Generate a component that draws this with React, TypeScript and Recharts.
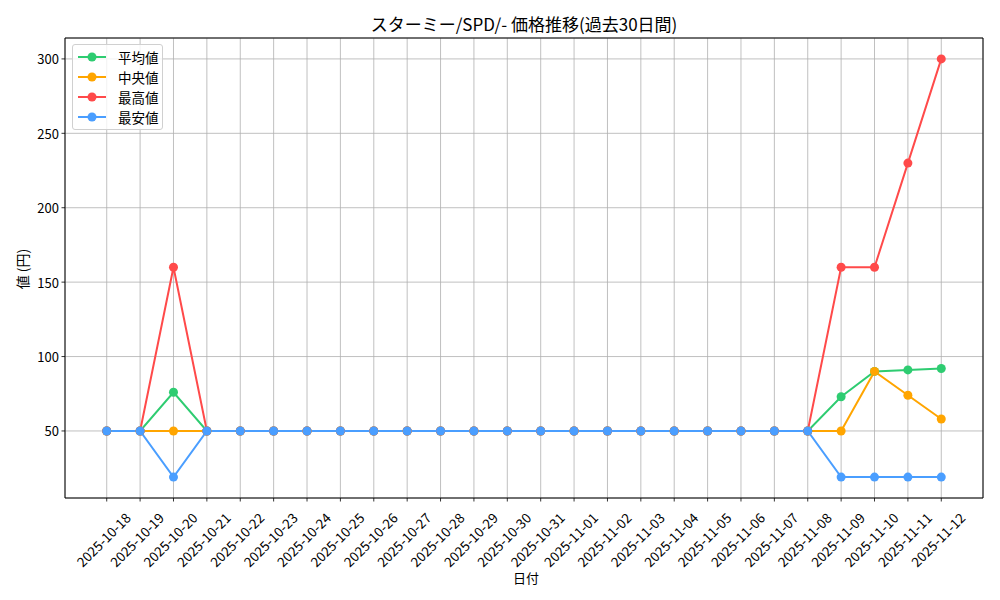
import React from "react";
import {
  LineChart,
  Line,
  XAxis,
  YAxis,
  CartesianGrid,
  ReferenceLine,
} from "recharts";

const dates = [
  "2025-10-18", "2025-10-19", "2025-10-20", "2025-10-21", "2025-10-22",
  "2025-10-23", "2025-10-24", "2025-10-25", "2025-10-26", "2025-10-27",
  "2025-10-28", "2025-10-29", "2025-10-30", "2025-10-31", "2025-11-01",
  "2025-11-02", "2025-11-03", "2025-11-04", "2025-11-05", "2025-11-06",
  "2025-11-07", "2025-11-08", "2025-11-09", "2025-11-10", "2025-11-11",
  "2025-11-12",
];
const avgValues = [50, 50, 76, 50, 50, 50, 50, 50, 50, 50, 50, 50, 50, 50, 50, 50, 50, 50, 50, 50, 50, 50, 73, 90, 91, 92];
const medianValues = [50, 50, 50, 50, 50, 50, 50, 50, 50, 50, 50, 50, 50, 50, 50, 50, 50, 50, 50, 50, 50, 50, 50, 90, 74, 58];
const maxValues = [50, 50, 160, 50, 50, 50, 50, 50, 50, 50, 50, 50, 50, 50, 50, 50, 50, 50, 50, 50, 50, 50, 160, 160, 230, 300];
const minValues = [50, 50, 19, 50, 50, 50, 50, 50, 50, 50, 50, 50, 50, 50, 50, 50, 50, 50, 50, 50, 50, 50, 19, 19, 19, 19];
const yTicks = [50, 100, 150, 200, 250, 300];

const seriesDefs = [
  { key: "avg", name: "平均値", color: "#2ecc71" },
  { key: "median", name: "中央値", color: "#ffa500" },
  { key: "max", name: "最高値", color: "#ff4a4a" },
  { key: "min", name: "最安値", color: "#4a9eff" },
];

const data = dates.map((d, i) => ({
  idx: i,
  date: d,
  avg: avgValues[i],
  median: medianValues[i],
  max: maxValues[i],
  min: minValues[i],
}));

const X_DOMAIN: [number, number] = [-1.25, 26.25];
const Y_DOMAIN: [number, number] = [4.95, 314.05];

const FONT = "'Noto Sans CJK JP', 'DejaVu Sans', sans-serif";

const XTick = (props: any) => {
  const { x, y, payload } = props;
  const tx = x + 16;
  const ty = y + 4;
  return (
    <g>
      <line x1={x} y1={y - 8} x2={x} y2={y - 4.5} stroke="#000" strokeWidth={0.8} />
      <text
        x={tx}
        y={ty}
        transform={`rotate(-45 ${tx} ${ty})`}
        textAnchor="end"
        dominantBaseline="hanging"
        fontSize={13.5}
        fontFamily={FONT}
        fill="#000"
      >
        {dates[payload.value]}
      </text>
    </g>
  );
};

const YTick = (props: any) => {
  const { x, y, payload } = props;
  return (
    <g>
      <line x1={x + 8} y1={y} x2={x + 4.5} y2={y} stroke="#000" strokeWidth={0.8} />
      <text
        x={x + 2}
        y={y}
        textAnchor="end"
        dominantBaseline="central"
        fontSize={13}
        fontFamily={FONT}
        fill="#000"
      >
        {payload.value}
      </text>
    </g>
  );
};

const LegendBox = () => (
  <div
    style={{
      position: "absolute",
      left: 72,
      top: 44,
      width: 91,
      boxSizing: "border-box",
      background: "rgba(255,255,255,0.8)",
      border: "1px solid #d0d0d0",
      borderRadius: 3,
      padding: "2px 0 2px 4px",
      fontFamily: FONT,
      fontSize: 13.5,
    }}
  >
    {seriesDefs.map((s) => (
      <div key={s.key} style={{ display: "flex", alignItems: "center", height: 20, whiteSpace: "nowrap" }}>
        <svg width={41} height={12} style={{ flex: "none" }}>
          <line x1={1} y1={6} x2={29} y2={6} stroke={s.color} strokeWidth={2} />
          <circle cx={15} cy={6} r={4.5} fill={s.color} />
        </svg>
        <span>{s.name}</span>
      </div>
    ))}
  </div>
);

export default function App() {
  return (
    <div style={{ position: "absolute", left: 0, top: 0, width: 1000, height: 600, background: "#fff" }}>
      <LineChart
        width={1000}
        height={600}
        data={data}
        margin={{ top: 38, right: 17, bottom: 0, left: 0 }}
        style={{ position: "absolute", left: 0, top: 0 }}
      >
        <CartesianGrid stroke="#b0b0b0" strokeWidth={0.8} xAxisId="bottom" yAxisId="left" />
        <XAxis
          xAxisId="bottom"
          dataKey="idx"
          type="number"
          domain={X_DOMAIN}
          ticks={dates.map((_, i) => i)}
          interval={0}
          height={102}
          axisLine={{ stroke: "#000", strokeWidth: 1 }}
          tickLine={false}
          tick={<XTick />}
          allowDataOverflow
        />
        <YAxis
          yAxisId="left"
          type="number"
          domain={Y_DOMAIN}
          ticks={yTicks}
          width={65}
          axisLine={{ stroke: "#000", strokeWidth: 1 }}
          tickLine={false}
          tick={<YTick />}
          allowDataOverflow
        />
        <ReferenceLine xAxisId="bottom" yAxisId="left" y={Y_DOMAIN[1]} stroke="#000" strokeWidth={1} />
        <ReferenceLine xAxisId="bottom" yAxisId="left" x={X_DOMAIN[1]} stroke="#000" strokeWidth={1} />
        {seriesDefs.map((s) => (
          <Line
            key={s.key}
            xAxisId="bottom"
            yAxisId="left"
            type="linear"
            dataKey={s.key}
            name={s.name}
            stroke={s.color}
            strokeWidth={2}
            dot={{ r: 4.5, fill: s.color, stroke: s.color, strokeWidth: 0 }}
            activeDot={false}
            isAnimationActive={false}
          />
        ))}
      </LineChart>
      <div
        style={{
          position: "absolute",
          left: 65,
          width: 918,
          top: 11,
          textAlign: "center",
          fontFamily: FONT,
          fontSize: 17,
        }}
      >
        スターミー/SPD/- 価格推移(過去30日間)
      </div>
      <div
        style={{
          position: "absolute",
          left: 513,
          top: 568,
          fontFamily: FONT,
          fontSize: 13,
        }}
      >
        日付
      </div>
      <div
        style={{
          position: "absolute",
          left: 22,
          top: 269,
          transform: "translate(-50%, -50%) rotate(-90deg)",
          fontFamily: FONT,
          fontSize: 14,
          whiteSpace: "nowrap",
        }}
      >
        値 (円)
      </div>
      <LegendBox />
    </div>
  );
}
